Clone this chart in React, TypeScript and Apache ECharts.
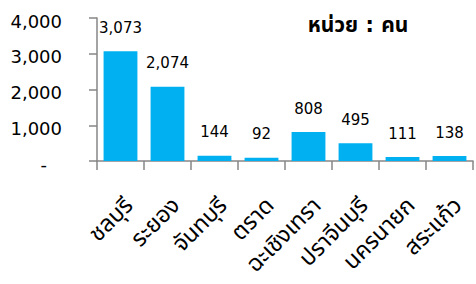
import React, { useEffect, useRef } from "react";
import * as echarts from "echarts";

const categories = ["ชลบุรี", "ระยอง", "จันทบุรี", "ตราด", "ฉะเชิงเทรา", "ปราจีนบุรี", "นครนายก", "สระแก้ว"];
const values = [3073, 2074, 144, 92, 808, 495, 111, 138];
const unitTitle = "หน่วย : คน";

const fmt = (v: number) => v.toLocaleString("en-US");

export default function App() {
  const ref = useRef<HTMLDivElement>(null);
  useEffect(() => {
    document.body.style.margin = "0";
    const chart = echarts.init(ref.current!, null, { renderer: "svg" });
    const font = "Tahoma, 'DejaVu Sans', 'Noto Sans Thai', sans-serif";
    chart.setOption({
      animation: false,
      textStyle: { fontFamily: font },
      title: {
        text: unitTitle,
        left: 353,
        top: 9,
        textAlign: "center",
        textStyle: { fontSize: 21, fontWeight: "bold", color: "#000", fontFamily: font },
      },
      grid: { left: 97, right: 3, top: 18, bottom: 123, containLabel: false },
      xAxis: {
        type: "category",
        data: categories,
        axisLine: { lineStyle: { color: "#868686", width: 1.5 } },
        axisTick: { show: true, length: 9, lineStyle: { color: "#868686", width: 1.5 } },
        axisLabel: {
          rotate: 45,
          fontSize: 23,
          color: "#000",
          margin: 32,
          interval: 0,
          verticalAlign: "top",
          fontFamily: font,
        },
      },
      yAxis: {
        type: "value",
        min: 0,
        max: 4000,
        interval: 1000,
        splitLine: { show: false },
        axisLine: { show: true, lineStyle: { color: "#868686", width: 1.5 } },
        axisTick: { show: true, length: 8, lineStyle: { color: "#868686", width: 1.5 } },
        axisLabel: {
          fontSize: 18,
          color: "#000",
          margin: 35,
          padding: [6, 0, 0, 0],
          fontFamily: font,
          formatter: (v: number) => (v === 0 ? "{d|-}" : fmt(v)),
          rich: { d: { fontSize: 18, color: "#000", padding: [0, 15, 0, 0], fontFamily: font } },
        },
      },
      series: [
        {
          type: "bar",
          data: values,
          barCategoryGap: "28%",
          itemStyle: { color: "#00B0F0" },
          label: {
            show: true,
            position: "top",
            distance: 16,
            fontSize: 15,
            color: "#000",
            fontFamily: font,
            formatter: (p: any) => fmt(p.value),
          },
        },
      ],
    });
    return () => chart.dispose();
  }, []);
  return <div ref={ref} style={{ width: 476, height: 284 }} />;
}
